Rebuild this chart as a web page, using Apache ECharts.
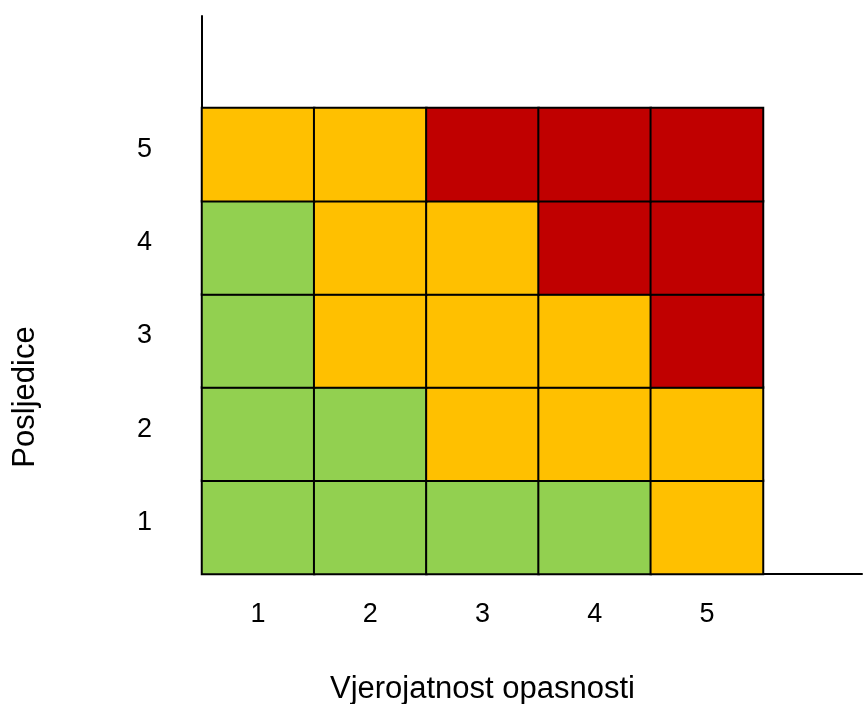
<!DOCTYPE html>
<html>
<head>
<meta charset="utf-8">
<script src="https://cdn.jsdelivr.net/npm/echarts@6/dist/echarts.min.js"></script>
<style>
html, body { margin: 0; padding: 0; background: #fff; }
#chart { width: 864px; height: 704px; }
</style>
</head>
<body>
<div id="chart"></div>
<script>
// risk matrix: x = vjerojatnost, y = posljedice
var xCategories = ['1', '2', '3', '4', '5'];
var yCategories = ['1', '2', '3', '4', '5'];
// 1 = green, 2 = orange, 3 = red ; rows from y=1 up to y=5
var row1 = [1, 1, 1, 1, 2];
var row2 = [1, 1, 2, 2, 2];
var row3 = [1, 2, 2, 2, 3];
var row4 = [1, 2, 2, 3, 3];
var row5 = [2, 2, 3, 3, 3];
var rows = [row1, row2, row3, row4, row5];

var xTitle = 'Vjerojatnost opasnosti';
var yTitle = 'Posljedice';

var font = "'Liberation Sans', Arial, sans-serif";

var cells = [];
for (var r = 0; r < rows.length; r++) {
    for (var c = 0; c < rows[r].length; c++) {
        cells.push([c, r, rows[r][c]]);
    }
}

var chart = echarts.init(document.getElementById('chart'));

var option = {
    backgroundColor: '#fff',
    animation: false,
    grid: [
        { left: 202, right: 101, top: 108, bottom: 130, outerBoundsMode: 'none', containLabel: false },
        { left: 202, right: 2, top: 16, bottom: 130, outerBoundsMode: 'none', containLabel: false }
    ],
    xAxis: [{
        type: 'category',
        gridIndex: 0,
        data: xCategories,
        axisLine: { show: false },
        axisTick: { show: false },
        splitLine: { show: false },
        axisLabel: { color: '#000', fontSize: 27, fontFamily: font, margin: 27 },
        name: xTitle,
        nameLocation: 'middle',
        nameGap: 100,
        nameTextStyle: { color: '#000', fontSize: 31, fontFamily: font }
    }, {
        type: 'value',
        gridIndex: 1,
        min: 0,
        max: 1,
        axisLine: { show: true, lineStyle: { color: '#000', width: 2 } },
        axisTick: { show: false },
        axisLabel: { show: false },
        splitLine: { show: false }
    }],
    yAxis: [{
        type: 'category',
        gridIndex: 0,
        data: yCategories,
        axisLine: { show: false },
        axisTick: { show: false },
        splitLine: { show: false },
        axisLabel: {
            color: '#000', fontSize: 27, fontFamily: font, margin: 50,
            verticalAlign: 'bottom', lineHeight: 10
        }
    }, {
        type: 'value',
        gridIndex: 1,
        min: 0,
        max: 1,
        axisLine: { show: true, lineStyle: { color: '#000', width: 2 } },
        axisTick: { show: false },
        axisLabel: { show: false },
        splitLine: { show: false }
    }],
    visualMap: {
        show: false,
        type: 'piecewise',
        dimension: 2,
        seriesIndex: 0,
        pieces: [
            { value: 1, color: '#92D050' },
            { value: 2, color: '#FFC000' },
            { value: 3, color: '#C00000' }
        ]
    },
    graphic: [{
        type: 'text',
        x: 25,
        y: 397,
        rotation: Math.PI / 2,
        style: {
            text: yTitle,
            fill: '#000',
            font: '31px ' + font,
            textAlign: 'center',
            textVerticalAlign: 'middle'
        }
    }],
    series: [{
        type: 'heatmap',
        xAxisIndex: 0,
        yAxisIndex: 0,
        data: cells,
        itemStyle: { borderColor: '#000', borderWidth: 2 },
        emphasis: { disabled: true }
    }]
};

chart.setOption(option);
</script>
</body>
</html>
